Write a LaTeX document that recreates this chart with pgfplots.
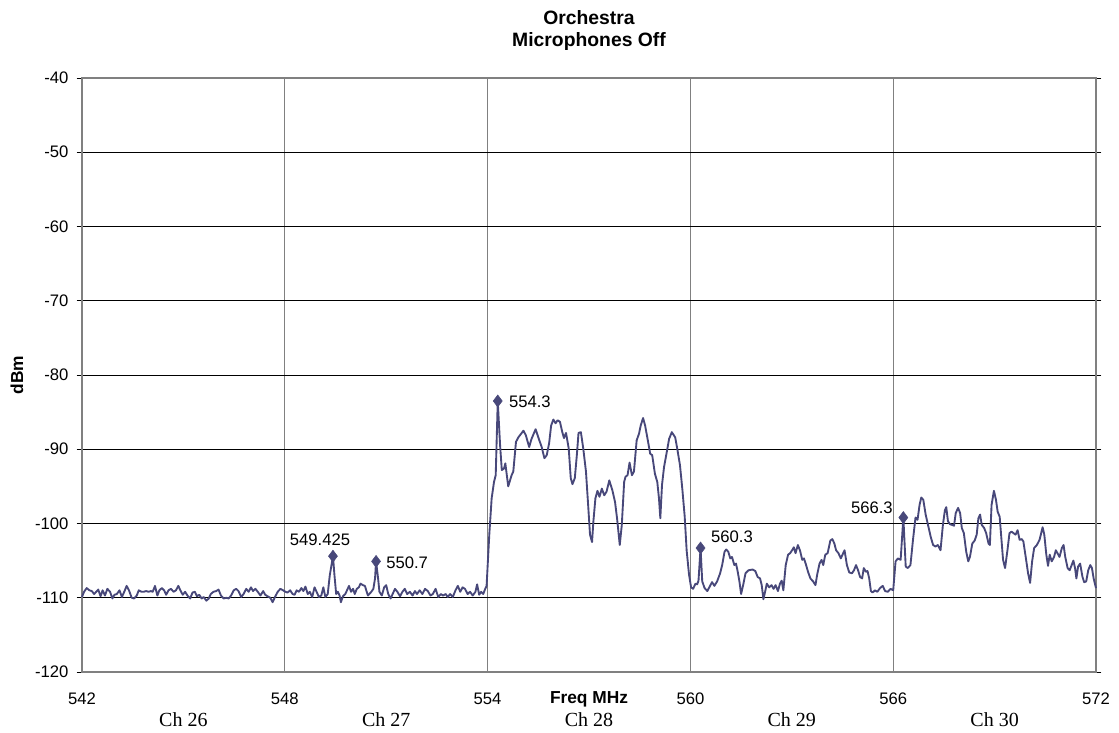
\documentclass[border=0pt]{standalone}
\usepackage{fontspec}
\setmainfont{Liberation Sans}
\newfontfamily\chfont{Liberation Serif}
\usepackage{pgfplots}
\pgfplotsset{compat=1.18}
\definecolor{trace}{RGB}{72,72,122}
\definecolor{frame}{RGB}{128,128,128}

\begin{document}
\begin{tikzpicture}[
    peak/.style={font=\fontsize{12.5}{15}\selectfont},
    chan/.style={font=\chfont\fontsize{15}{17}\selectfont},
]
\begin{axis}[
    scale only axis, width=760.5pt, height=445.5pt,
    xmin=542, xmax=572, ymin=-120, ymax=-40,
    xtick={542,548,...,572}, ytick={-120,-110,...,-40},
    clip=false,
    axis line style={draw=frame, line width=1.1pt},
    xmajorgrids, ymajorgrids,
    major x grid style={draw=frame, line width=0.8pt},
    major y grid style={draw=black, line width=0.7pt},
    x tick style={draw=none},
    y tick style={draw=black, line width=0.7pt},
    tick align=outside, major tick length=4pt,
    /pgf/number format/assume math mode=true,
    ticklabel style={font=\fontsize{12.5}{15}\selectfont},
    xticklabel style={anchor=center, yshift=-16pt},
    yticklabel style={anchor=east, inner sep=0pt, xshift=-6pt},
]
\addplot[trace, line width=1.4pt, no marks, line join=round] table {
542.00 -109.9
542.06 -109.2
542.14 -108.7
542.22 -109.0
542.29 -109.1
542.36 -109.5
542.42 -109.2
542.48 -108.9
542.55 -109.8
542.61 -109.0
542.68 -109.7
542.75 -108.8
542.83 -109.2
542.90 -110.1
542.96 -109.6
543.03 -109.5
543.11 -109.0
543.18 -109.9
543.25 -109.2
543.32 -108.4
543.39 -109.0
543.47 -110.0
543.54 -110.1
543.62 -109.7
543.68 -109.0
543.76 -109.2
543.82 -109.2
543.90 -109.1
543.97 -109.2
544.04 -109.1
544.09 -109.2
544.16 -108.4
544.23 -109.7
544.29 -109.0
544.36 -108.7
544.43 -109.0
544.49 -109.6
544.56 -109.0
544.63 -108.8
544.71 -109.2
544.78 -109.0
544.85 -108.4
544.91 -109.0
544.98 -109.6
545.05 -109.2
545.12 -109.7
545.20 -110.1
545.27 -109.3
545.34 -109.2
545.40 -109.8
545.47 -109.6
545.54 -110.1
545.60 -109.9
545.68 -110.4
545.75 -110.1
545.81 -109.5
545.89 -109.2
545.97 -109.1
546.04 -108.9
546.11 -109.7
546.19 -110.1
546.27 -110.0
546.34 -110.1
546.41 -109.7
546.49 -109.0
546.56 -108.8
546.63 -109.1
546.71 -109.9
546.78 -109.5
546.86 -108.8
546.93 -109.2
547.00 -108.6
547.06 -109.1
547.13 -108.8
547.20 -109.2
547.28 -109.7
547.36 -109.1
547.42 -109.6
547.49 -109.8
547.57 -110.0
547.64 -110.6
547.71 -109.9
547.79 -109.2
547.87 -108.8
547.95 -109.0
548.02 -109.2
548.08 -109.3
548.16 -109.0
548.23 -109.5
548.29 -109.6
548.35 -109.0
548.42 -109.2
548.49 -108.7
548.55 -109.1
548.61 -108.5
548.68 -109.5
548.74 -109.2
548.81 -109.9
548.88 -108.6
548.94 -109.2
549.01 -109.9
549.08 -109.7
549.14 -108.6
549.20 -109.9
549.27 -109.5
549.33 -107.0
549.425 -104.4
549.47 -107.0
549.52 -109.5
549.57 -109.2
549.62 -109.7
549.66 -110.6
549.72 -109.8
549.79 -109.5
549.84 -109.0
549.90 -108.4
549.96 -109.2
550.02 -108.8
550.07 -109.5
550.13 -108.8
550.19 -108.6
550.24 -108.1
550.31 -108.3
550.37 -108.4
550.41 -109.0
550.46 -109.7
550.50 -109.5
550.56 -109.2
550.62 -108.8
550.67 -107.4
550.70 -105.1
550.76 -107.4
550.80 -109.2
550.87 -109.7
550.94 -108.6
551.00 -108.3
551.06 -109.5
551.13 -110.1
551.19 -109.5
551.26 -108.8
551.33 -109.2
551.41 -109.8
551.48 -109.2
551.55 -108.8
551.62 -109.5
551.70 -109.2
551.78 -109.7
551.85 -109.1
551.91 -109.5
551.99 -109.0
552.07 -109.5
552.15 -108.8
552.23 -109.1
552.31 -109.7
552.38 -109.5
552.46 -108.8
552.54 -109.9
552.62 -109.5
552.68 -109.7
552.76 -109.5
552.82 -109.9
552.89 -109.5
552.97 -109.9
553.05 -109.0
553.12 -108.4
553.19 -109.2
553.26 -108.6
553.33 -108.8
553.41 -109.5
553.48 -109.2
553.56 -109.7
553.64 -109.2
553.69 -108.2
553.75 -109.6
553.81 -109.2
553.87 -109.5
553.93 -108.8
553.97 -108.4
554.05 -101.5
554.12 -96.6
554.19 -94.4
554.24 -93.5
554.30 -83.5
554.37 -89.5
554.42 -92.8
554.485 -92.6
554.525 -91.9
554.61 -95.0
554.71 -93.5
554.76 -93.0
554.84 -89.0
554.91 -88.4
555.06 -87.5
555.13 -88.1
555.23 -89.7
555.30 -88.6
555.42 -87.3
555.53 -88.8
555.60 -89.7
555.68 -91.2
555.75 -90.8
555.82 -89.2
555.88 -86.8
555.945 -86.0
556.01 -86.5
556.07 -86.1
556.14 -86.3
556.21 -87.7
556.26 -88.5
556.32 -87.8
556.40 -89.9
556.46 -93.9
556.51 -94.7
556.58 -93.9
556.64 -90.8
556.69 -87.8
556.76 -87.7
556.83 -89.9
556.91 -93.0
556.98 -97.9
557.03 -101.5
557.09 -102.5
557.13 -99.7
557.19 -96.6
557.25 -95.6
557.31 -96.4
557.38 -95.3
557.45 -96.2
557.52 -95.7
557.60 -94.2
557.69 -95.5
557.77 -97.1
557.83 -99.3
557.91 -102.9
557.97 -100.2
558.04 -94.4
558.08 -93.7
558.14 -93.5
558.20 -91.8
558.27 -93.5
558.33 -93.0
558.41 -88.8
558.48 -87.9
558.53 -86.8
558.60 -85.8
558.66 -86.8
558.74 -88.8
558.81 -90.6
558.87 -90.8
558.95 -93.3
559.02 -94.4
559.07 -96.6
559.11 -99.3
559.16 -94.8
559.22 -92.4
559.30 -90.4
559.37 -88.6
559.45 -87.7
559.55 -88.4
559.61 -89.9
559.69 -92.1
559.76 -95.3
559.83 -99.0
559.89 -103.7
559.96 -106.9
560.02 -108.6
560.08 -108.8
560.15 -108.1
560.20 -108.2
560.24 -107.7
560.30 -103.3
560.35 -107.8
560.42 -108.7
560.50 -109.1
560.57 -108.5
560.64 -107.9
560.71 -108.4
560.79 -107.8
560.88 -106.7
560.94 -105.6
561.01 -103.8
561.06 -103.5
561.12 -103.8
561.18 -104.7
561.23 -104.5
561.30 -105.6
561.35 -105.4
561.40 -106.5
561.45 -107.8
561.50 -109.5
561.57 -108.1
561.63 -106.7
561.72 -106.3
561.84 -106.2
561.92 -106.4
561.99 -107.2
562.06 -107.4
562.11 -108.3
562.16 -110.2
562.21 -109.2
562.26 -108.1
562.33 -108.6
562.40 -108.3
562.46 -108.8
562.52 -108.3
562.59 -109.1
562.65 -108.1
562.70 -107.7
562.75 -109.0
562.82 -105.6
562.89 -104.2
562.95 -104.0
563.01 -103.6
563.06 -103.2
563.11 -104.0
563.18 -102.9
563.24 -103.6
563.31 -104.9
563.36 -104.7
563.41 -105.4
563.48 -106.5
563.55 -107.4
563.63 -107.8
563.70 -108.3
563.75 -106.9
563.82 -105.4
563.88 -104.9
563.93 -105.6
563.99 -104.2
564.06 -104.0
564.14 -102.3
564.20 -102.1
564.26 -102.7
564.31 -103.6
564.38 -104.0
564.45 -104.7
564.50 -104.2
564.56 -103.6
564.63 -105.6
564.70 -106.6
564.78 -106.7
564.84 -106.3
564.90 -105.6
564.96 -106.3
565.02 -107.2
565.08 -107.4
565.13 -106.0
565.19 -106.5
565.24 -106.4
565.29 -107.4
565.34 -109.1
565.39 -109.3
565.46 -109.0
565.53 -109.2
565.61 -108.7
565.69 -108.4
565.76 -109.1
565.84 -109.2
565.92 -108.8
566.00 -109.0
566.07 -105.1
566.14 -104.7
566.22 -104.9
566.30 -99.2
566.37 -105.8
566.43 -106.0
566.51 -105.6
566.59 -102.0
566.66 -99.2
566.72 -99.5
566.78 -97.5
566.83 -96.5
566.89 -96.8
566.96 -98.8
567.03 -100.2
567.11 -101.8
567.18 -102.9
567.25 -103.1
567.32 -102.9
567.40 -103.6
567.47 -100.2
567.53 -98.2
567.57 -97.8
567.62 -99.7
567.68 -100.1
567.75 -100.2
567.80 -100.3
567.85 -98.6
567.92 -97.9
567.98 -98.6
568.03 -100.6
568.09 -101.3
568.16 -103.8
568.22 -105.1
568.27 -104.5
568.34 -102.7
568.41 -102.3
568.47 -101.5
568.52 -99.3
568.57 -98.8
568.62 -100.2
568.69 -100.6
568.75 -101.3
568.82 -102.7
568.86 -102.9
568.91 -97.5
568.98 -95.6
569.04 -96.8
569.09 -98.4
569.15 -99.1
569.20 -102.0
569.25 -104.9
569.31 -106.0
569.38 -103.6
569.44 -101.3
569.50 -101.1
569.56 -101.3
569.62 -101.5
569.68 -100.9
569.74 -102.2
569.80 -102.1
569.85 -102.4
569.92 -104.5
569.99 -106.7
570.05 -108.0
570.11 -105.1
570.17 -103.3
570.25 -102.9
570.33 -102.2
570.42 -100.5
570.47 -101.5
570.53 -104.2
570.58 -105.7
570.63 -104.2
570.69 -105.1
570.76 -104.5
570.81 -103.6
570.86 -104.0
570.92 -104.5
570.99 -103.3
571.04 -102.9
571.09 -104.5
571.16 -106.0
571.22 -106.3
571.28 -105.6
571.33 -105.0
571.38 -106.0
571.42 -107.4
571.47 -105.8
571.53 -105.4
571.60 -107.2
571.65 -107.9
571.71 -107.8
571.77 -106.3
571.83 -105.6
571.88 -106.0
571.93 -107.4
572.00 -108.7
};
% marked peaks
\addplot[only marks, mark=diamond*, mark size=4.5pt, color=trace] table {
549.425 -104.4
550.70 -105.1
554.30 -83.5
560.30 -103.3
566.30 -99.2
};
\node[peak] at (axis cs:549.04,-102.2) {549.425};
\node[peak] at (axis cs:551.62,-105.3) {550.7};
\node[peak] at (axis cs:555.25,-83.6) {554.3};
\node[peak] at (axis cs:561.23,-101.8) {560.3};
\node[peak] at (axis cs:565.37,-97.9) {566.3};

% titles and axis captions
\node[font=\bfseries\fontsize{14.5}{17}\selectfont] at ([yshift=45pt]rel axis cs:0.5,1) {Orchestra};
\node[font=\bfseries\fontsize{14.5}{17}\selectfont] at ([yshift=27pt]rel axis cs:0.5,1) {Microphones Off};
\node[font=\bfseries\fontsize{13}{15}\selectfont, rotate=90] at ([xshift=-48.75pt]rel axis cs:0,0.5) {dBm};
\node[font=\bfseries\fontsize{13}{15}\selectfont] at ([yshift=-20.5pt]axis cs:557,-120) {Freq MHz};
\node[chan] at ([yshift=-35.5pt]axis cs:545,-120) {Ch 26};
\node[chan] at ([yshift=-35.5pt]axis cs:551,-120) {Ch 27};
\node[chan] at ([yshift=-35.5pt]axis cs:557,-120) {Ch 28};
\node[chan] at ([yshift=-35.5pt]axis cs:563,-120) {Ch 29};
\node[chan] at ([yshift=-35.5pt]axis cs:569,-120) {Ch 30};

\coordinate (ll) at (rel axis cs:0,0);
\coordinate (ur) at (rel axis cs:1,1);
\end{axis}
\pgfresetboundingbox
\path ([shift={(-61.5pt,-45.75pt)}]ll) rectangle ([shift={(17.25pt,58.5pt)}]ur);
\end{tikzpicture}
\end{document}
